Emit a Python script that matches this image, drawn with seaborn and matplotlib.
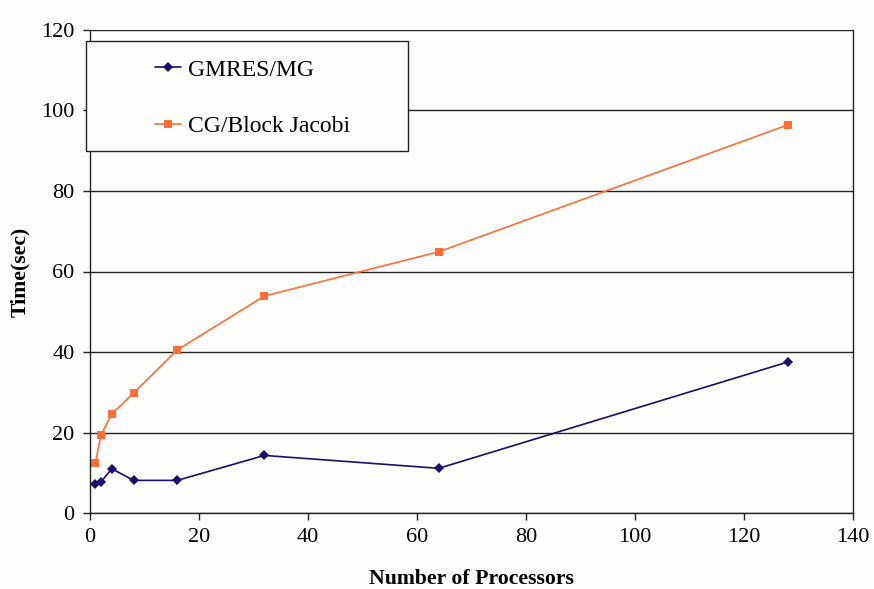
import matplotlib
matplotlib.use("Agg")
import matplotlib.pyplot as plt
from matplotlib.patches import Rectangle
import seaborn as sns
import pandas as pd

processors = [1, 2, 4, 8, 16, 32, 64, 128]
gmres_mg = [7.3, 7.7, 11.0, 8.1, 8.1, 14.3, 11.1, 37.5]
cg_block_jacobi = [12.5, 19.3, 24.6, 29.8, 40.5, 53.9, 64.9, 96.4]
series_names = ["GMRES/MG", "CG/Block Jacobi"]
x_ticks = [0, 20, 40, 60, 80, 100, 120, 140]
y_ticks = [0, 20, 40, 60, 80, 100, 120]

sns.set_style("white")
plt.rcParams['font.family'] = ['Liberation Serif', 'DejaVu Serif']

df = pd.DataFrame({
    "Processors": processors * 2,
    "Time": gmres_mg + cg_block_jacobi,
    "Method": [series_names[0]] * len(processors) + [series_names[1]] * len(processors),
})

fig = plt.figure(figsize=(8.74, 5.89), dpi=100, facecolor="#FDFDFB")
ax = fig.add_axes([90/874, 76/589, 763/874, 483/589])
ax.set_facecolor("#FDFDFB")

palette = {series_names[0]: "#1E0B6E", series_names[1]: "#FF6E3A"}
markers = {series_names[0]: "D", series_names[1]: "s"}
sns.lineplot(data=df, x="Processors", y="Time", hue="Method", style="Method",
             palette=palette, markers=markers, dashes=False, markersize=5.5,
             markeredgewidth=0, linewidth=1.2, ax=ax, legend=True)

ax.set_xlim(0, 140)
ax.set_ylim(0, 120)
ax.set_xticks(x_ticks)
ax.set_yticks(y_ticks)
ax.tick_params(axis="both", labelsize=16, length=5, width=1, direction="out",
               colors="#222222", pad=6)
ax.tick_params(axis="both", labelcolor="black")
ax.yaxis.grid(True, color="#222222", linewidth=1)
ax.set_axisbelow(True)
for s in ["left", "bottom", "right"]:
    ax.spines[s].set_visible(True)
    ax.spines[s].set_color("#222222")
    ax.spines[s].set_linewidth(1)
ax.spines["top"].set_visible(False)
ax.tick_params(axis="both", which="both", left=True, bottom=True)

ax.set_xlabel("Number of Processors", fontsize=15.7, fontweight="bold", labelpad=16, color="black")
ax.set_ylabel("Time(sec)", fontsize=15.7, fontweight="bold", labelpad=8, color="black")

# legend frame
ax.add_patch(Rectangle((-4/763, (513-151)/483), 322/763, 110/483, transform=ax.transAxes,
                       facecolor="#FDFDFB", edgecolor="#222222", linewidth=1,
                       clip_on=False, zorder=4))

handles, labels = ax.get_legend_handles_labels()
leg = ax.legend(handles, labels, loc="upper left",
                bbox_to_anchor=((155-90)/763, (513-59)/483),
                fontsize=17, frameon=False, borderpad=0, labelspacing=1.48,
                handlelength=1.1, handletextpad=0.3, borderaxespad=0)
leg.set_zorder(5)
for t in leg.get_texts():
    t.set_color("black")

fig.savefig("out.png", dpi=100, facecolor=fig.get_facecolor())
